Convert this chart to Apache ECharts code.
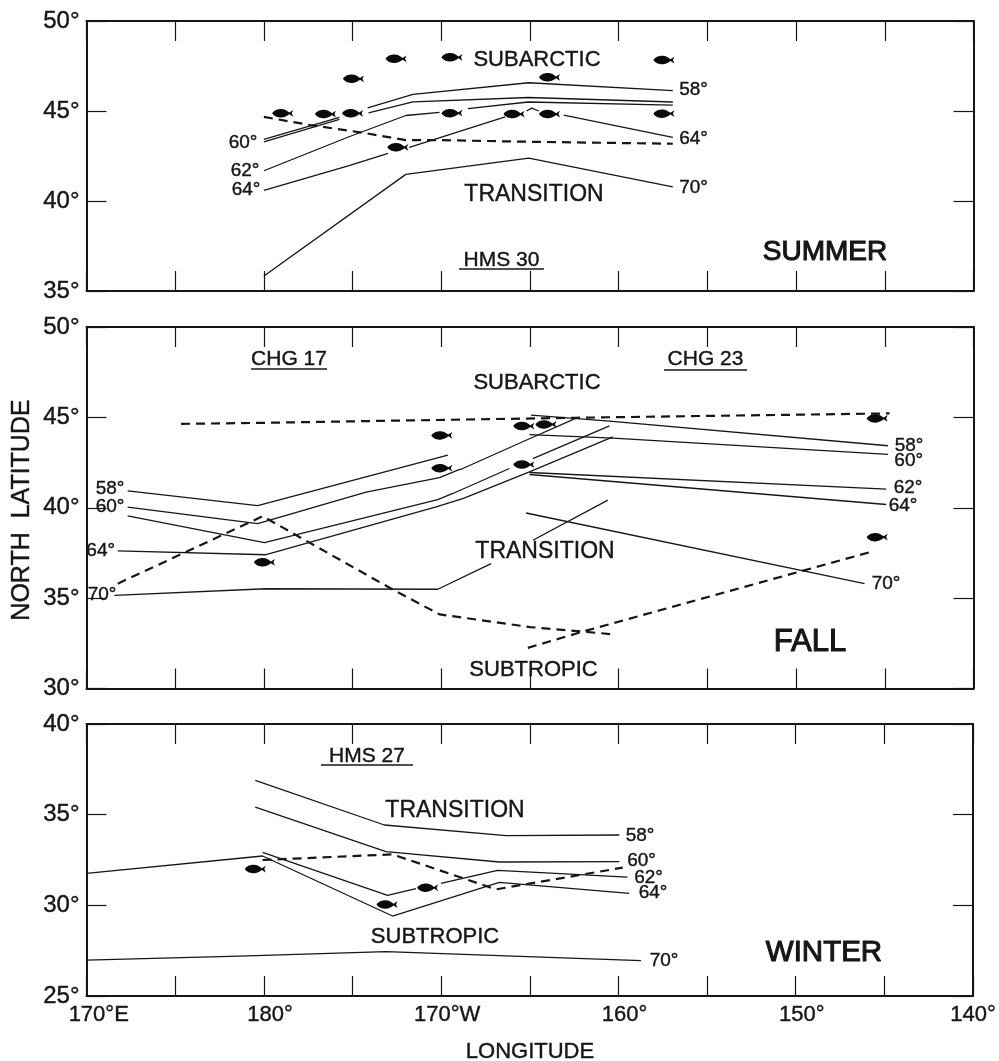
<!DOCTYPE html>
<html>
<head>
<meta charset="utf-8">
<style>html,body{margin:0;padding:0;background:#fff}#c{width:999px;height:1061px}</style>
<script src="https://cdn.jsdelivr.net/npm/echarts@6/dist/echarts.min.js"></script>
</head>
<body>
<div id="c"></div>
<script>
// Longitude runs continuously: 180 = dateline, 190 = 170W, 220 = 140W. null = gap in a line.
const lonTicks = [170,180,190,200,210,220];
const lonLabels = ['    170°E','  180°','  170°W','  160°','  150°','140°'];

const summer58 = [[180,43.42],[184.26,44.64],null,[185.85,45.18],[188.4,45.92],[194.93,46.57],[203.05,46.13]];
const summer60 = [[180,43.29],[184.26,44.53],null,[185.9,44.9],[188.4,45.51],[194.93,45.75],[203.05,45.5]];
const summer62 = [[180,41.68],[184.8,43.57],[188,44.75],[189.9,44.92],null,[191.5,45.13],[194.9,45.5],[203.05,45.33]];
const summer64 = [[180,40.59],[184.8,41.96],[187,42.64],null,[188.2,42.98],[193.6,44.68],null,[194.8,45.0],[195.1,45.16],[195.5,45.0],null,[196.9,44.77],[203.05,43.53]];
const summer70 = [[180,35.83],[188,41.48],[194.93,42.38],[203.05,40.79]];
const summerFront = [[180,44.67],[182.6,44.22],[185.6,43.79],[188,43.38],[189.9,43.38],[195,43.29],[203.05,43.18]];
const summerFish = [[181.06,44.87],[183.47,44.83],[185,44.87],[185.05,46.79],[187.45,47.9],[190.6,47.98],[196.1,46.87],[202.55,47.83],[190.6,44.88],[194.1,44.83],[196.1,44.83],[202.55,44.85],[187.55,42.98]];

const fall58a = [[172.32,40.93],[179.65,40.12],[190.37,42.91]];
const fall58b = [[195.06,45.12],[199.48,44.79],[215.18,43.43]];
const fall60a = [[172.32,40.04],[179.65,39.12],[185.76,40.87],[189.9,41.67],[190.93,42.08],[191.21,42.17],[194.59,43.65],[197.7,45.0]];
const fall60b = [[194.97,44.05],[199.67,43.85],[215.18,42.95]];
const fall62a = [[172.32,39.55],[180.03,38.07],[189.8,40.45],[190.65,40.79],[193.84,42.17],null,[195.16,42.72],[199.48,44.53]];
const fall62b = [[194.97,41.95],[215.08,41.03]];
const fall64a = [[171.76,37.61],[180.12,37.4],[189.71,40.05],[191.21,40.51],[194.97,41.99],[199.67,43.92]];
const fall64b = [[194.97,41.84],[215.08,40.18]];
const fall70a = [[171.57,35.15],[180.12,35.52],[189.8,35.49],[192.81,36.91],null,[195.16,38.2],[199.39,40.42]];
const fall70b = [[194.78,39.71],[213.86,35.8]];
const fallFrontA = [[175.33,44.64],[180.12,44.7],[189.33,44.85],[197.6,44.98],[215.27,45.22]];
const fallFrontB = [[171.76,35.8],[179.93,39.53],[187.27,35.47],[189.9,34.1],[195,33.4],[199.67,33.0]];
const fallFrontC = [[194.88,32.25],[198.16,33.2],[214.42,37.61]];
const fallFish = [[190.03,44.0],[190.03,42.19],[180.03,36.98],[194.65,44.52],[195.9,44.61],[194.65,42.39],[214.57,44.94],[214.57,38.37]];

const winter58 = [[179.52,36.89],[186.8,34.43],[193.66,33.84],[200.05,33.88]];
const winter60 = [[179.52,35.42],[186.89,32.96],[193.28,32.39],[200.05,32.41]];
const winter62 = [[179.93,32.92],[186.98,30.55],[188.58,30.92],null,[189.99,31.21],[193.18,31.93],[200.51,31.56]];
const winter64 = [[170,31.76],[179.93,32.72],[187.26,29.41],[193.28,31.27],[200.61,30.66]];
const winter70 = [[170,26.98],[178.62,27.2],[186.89,27.45],[201.27,26.95]];
const winterFront = [[179.93,32.5],[187.26,32.81],[193.09,30.88],[200.24,32.08]];
const winterFish = [[179.52,32.0],[189.24,30.97],[186.95,30.04]];

const INK = '#161616', FONT = '"Liberation Sans", Arial, sans-serif';
const FISH = 'path://M0 5C2 1 6 0 9 0C12 0 15 2 17 4L21 1L19.5 5L21 9L17 6C15 8 12 10 9 10C6 10 2 9 0 5Z';

const panels = [
  {top:21, bottom:291, min:35, max:50, solid:[summer58,summer60,summer62,summer64,summer70], dashed:[summerFront], fish:summerFish},
  {top:327, bottom:688.5, min:30, max:50, solid:[fall58a,fall58b,fall60a,fall60b,fall62a,fall62b,fall64a,fall64b,fall70a,fall70b], dashed:[fallFrontA,fallFrontB,fallFrontC], fish:fallFish},
  {top:724, bottom:996, min:25, max:40, solid:[winter58,winter60,winter62,winter64,winter70], dashed:[winterFront], fish:winterFish}
];

const grid=[], xAxis=[], yAxis=[], series=[];
const axisBase = {
  type:'value', splitLine:{show:false}, minorTick:{show:false},
  axisLine:{show:true,onZero:false,lineStyle:{color:INK,width:2}},
  axisTick:{show:true,inside:true,length:20,lineStyle:{color:INK,width:1.2}}
};
panels.forEach((p,i)=>{
  grid.push({left:86.5,right:999-973.5,top:p.top,height:p.bottom-p.top,containLabel:false});
  xAxis.push(Object.assign({},axisBase,{gridIndex:i,position:'bottom',min:170,max:220,interval:5,
    axisLabel:{show:i===2,margin:8,fontFamily:FONT,fontSize:22,color:INK,textBorderColor:INK,textBorderWidth:0.4,showMinLabel:true,showMaxLabel:true,hideOverlap:false,
      formatter:v=>{const k=lonTicks.indexOf(v);return k<0?'':lonLabels[k];}}}));
  xAxis.push(Object.assign({},axisBase,{gridIndex:i,position:'top',min:170,max:220,interval:5,axisLabel:{show:false}}));
  yAxis.push(Object.assign({},axisBase,{gridIndex:i,position:'left',min:p.min,max:p.max,interval:5,
    axisLabel:{show:true,margin:7,fontFamily:FONT,fontSize:24,color:INK,textBorderColor:INK,textBorderWidth:0.4,formatter:v=>v+'°'}}));
  yAxis.push(Object.assign({},axisBase,{gridIndex:i,position:'right',min:p.min,max:p.max,interval:5,axisLabel:{show:false}}));
  const xi=i*2, yi=i*2;
  const addLine=(pts,dash)=>{
    let seg=[];
    const flush=()=>{ if(seg.length){ series.push({type:'line',xAxisIndex:xi,yAxisIndex:yi,data:seg,symbol:'none',silent:true,z:dash?3:2,
      lineStyle:dash?{color:INK,width:2.2,type:[9,6]}:{color:INK,width:1.3}}); seg=[]; } };
    pts.forEach(q=>{ if(q===null) flush(); else seg.push(q); });
    flush();
  };
  p.solid.forEach(s=>addLine(s,false));
  p.dashed.forEach(s=>addLine(s,true));
  series.push({type:'scatter',xAxisIndex:xi,yAxisIndex:yi,data:p.fish,symbol:FISH,symbolSize:[21,8.5],silent:true,z:5,
    itemStyle:{color:'#0a0a0a',opacity:1}});
});

const notes = [
  ['SUBARCTIC',537,60,22],['TRANSITION',534,195,23],['HMS 30',501.5,260,21],['SUMMER',825,252,28],
  ['58°',693.5,90,19],['64°',693.5,139,19],['70°',693.5,188,19],['60°',243,143,19],['62°',245,170.5,19],['64°',246,190,19],
  ['CHG 17',289,359,21],['CHG 23',705.5,359,21],['SUBARCTIC',537,383,22],['TRANSITION',545,552,23],['SUBTROPIC',533.5,670,22],['FALL',810,642,31],
  ['58°',110,489,19],['60°',110,507,19],['64°',100.7,551,19],['70°',102,595,19],
  ['58°',909,446,19],['60°',908.7,461,19],['62°',908,488,19],['64°',903,506,19],['70°',886,584,19],
  ['HMS 27',367,756,21],['TRANSITION',455,811,23],['SUBTROPIC',435,937,22],['WINTER',824,953,29.5],
  ['58°',640,836,19],['60°',641.5,861,19],['62°',648.5,878,19],['64°',653,893,19],['70°',664,961,19],
  ['LONGITUDE',530,1052,22]
];
const rules = [[459,544,269],[251,327,369],[664,747,370],[321,413,765]];
const graphic = notes.map(n=>({type:'text',x:n[1],y:n[2],silent:true,z:10,
  style:{text:n[0],fill:INK,stroke:INK,lineWidth:n[3]>=28?1.1:0.4,font:n[3]+'px '+FONT,align:'center',verticalAlign:'middle'}}));
rules.forEach(r=>graphic.push({type:'line',silent:true,z:10,shape:{x1:r[0],y1:r[2],x2:r[1],y2:r[2]},style:{stroke:INK,lineWidth:1.3}}));
graphic.push({type:'text',x:22,y:510,rotation:Math.PI/2,silent:true,z:10,
  style:{text:'NORTH  LATITUDE',fill:INK,stroke:INK,lineWidth:0.4,font:'25px '+FONT,align:'center',verticalAlign:'middle'}});

const chart = echarts.init(document.getElementById('c'),null,{renderer:'canvas',width:999,height:1061});
chart.setOption({animation:false,backgroundColor:'#fff',tooltip:{show:false},grid,xAxis,yAxis,series,graphic});
</script>
</body>
</html>
